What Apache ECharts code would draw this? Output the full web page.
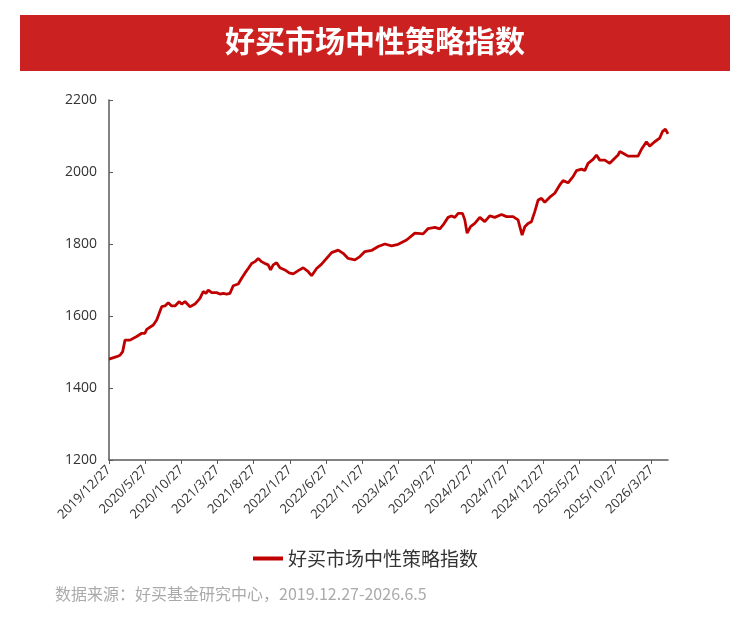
<!DOCTYPE html>
<html>
<head>
<meta charset="utf-8">
<script src="https://cdn.jsdelivr.net/npm/echarts@6/dist/echarts.min.js"></script>
<style>
  html, body { margin: 0; padding: 0; background: #fff; }
  #main { width: 750px; height: 622px; }
</style>
</head>
<body>
<div id="main"></div>
<script>
// x轴刻度标签（每5个月一个）
var tickLabels = ['2019/12/27', '2020/5/27', '2020/10/27', '2021/3/27', '2021/8/27', '2022/1/27',
  '2022/6/27', '2022/11/27', '2023/4/27', '2023/9/27', '2024/2/27', '2024/7/27',
  '2024/12/27', '2025/5/27', '2025/10/27', '2026/3/27'];

// 距 2019/12/27 的月数
var monthsSinceStart = [0, 1.06, 1.52, 1.89, 2.21, 2.9, 3.83, 4.52, 4.97, 5.21,
  6.12, 6.59, 7.28, 7.73, 8.19, 8.66, 9.12, 9.71, 10.04, 10.5,
  11.19, 11.88, 12.57, 13.02, 13.4, 13.72, 14.19, 14.88, 15.33, 15.79,
  16.26, 16.71, 17.17, 17.86, 18.33, 18.78, 19.24, 19.71, 20.17, 20.62,
  21.09, 21.55, 22.0, 22.33, 22.69, 23.16, 23.62, 24.31, 24.9, 25.46,
  26.15, 26.84, 27.53, 28.0, 28.69, 29.38, 30.07, 30.76, 31.67, 32.36,
  33.05, 33.98, 34.67, 35.36, 36.28, 37.2, 38.12, 39.05, 39.96, 41.12,
  42.27, 43.41, 44.1, 45.03, 45.72, 46.17, 46.86, 47.33, 47.79, 48.25,
  48.85, 49.17, 49.49, 49.96, 50.55, 51.24, 51.93, 52.62, 53.31, 54.24,
  54.93, 55.84, 56.53, 56.77, 57.09, 57.46, 57.91, 58.38, 58.84, 59.3,
  59.77, 60.22, 60.91, 61.6, 62.29, 62.75, 63.44, 64.13, 64.6, 65.29,
  65.75, 66.2, 66.89, 67.36, 67.82, 68.51, 69.2, 69.89, 70.35, 70.58,
  71.04, 71.73, 73.11, 73.58, 74.27, 74.72, 75.41, 76.1, 76.48, 76.89, 77.25];

// 好买市场中性策略指数
var indexValues = [1480, 1487, 1491, 1501, 1533, 1533, 1543, 1552, 1552, 1563,
  1575, 1589, 1626, 1628, 1637, 1628, 1628, 1640, 1633, 1640,
  1626, 1633, 1649, 1668, 1663, 1672, 1665, 1665, 1661, 1663,
  1661, 1663, 1684, 1689, 1705, 1719, 1732, 1746, 1751, 1760,
  1751, 1746, 1742, 1728, 1742, 1748, 1734, 1728, 1720, 1717,
  1726, 1734, 1723, 1712, 1732, 1744, 1760, 1776, 1783, 1774,
  1760, 1756, 1765, 1779, 1782, 1793, 1800, 1795, 1799, 1811,
  1830, 1828, 1843, 1846, 1842, 1853, 1874, 1878, 1874, 1885,
  1885, 1867, 1830, 1848, 1857, 1874, 1862, 1878, 1874, 1882,
  1876, 1876, 1867, 1848, 1825, 1848, 1857, 1862, 1890, 1922,
  1927, 1916, 1930, 1941, 1964, 1976, 1970, 1987, 2004, 2008,
  2004, 2024, 2035, 2047, 2033, 2033, 2024, 2038, 2047, 2057,
  2052, 2044, 2044, 2063, 2084, 2072, 2084, 2094, 2112, 2119, 2106];

var tickValues = tickLabels.map(function (t, i) { return i * 5; });

var seriesData = monthsSinceStart.map(function (m, i) { return [m, indexValues[i]]; });

var myChart = echarts.init(document.getElementById('main'));
var option = {
  animation: false,
  textStyle: { fontFamily: 'Noto Sans CJK SC' },
  graphic: [
    {
      type: 'rect',
      shape: { x: 20, y: 15, width: 710, height: 56 },
      style: { fill: '#CC2121' },
      z: 0
    },
    // 数据来源
    {
      type: 'text',
      left: 55,
      top: 586,
      style: {
        text: '数据来源：好买基金研究中心，2019.12.27-2026.6.5',
        fill: '#aaa',
        fontSize: 16,
        fontFamily: 'Noto Sans CJK SC'
      }
    }
  ],
  title: {
    text: '好买市场中性策略指数',
    left: 'center',
    top: 21,
    textStyle: { color: '#fff', fontSize: 30, fontWeight: 'bold', fontFamily: 'Noto Sans CJK SC' },
    z: 10
  },
  legend: {
    left: 248,
    top: 544,
    itemWidth: 30,
    itemHeight: 4,
    itemGap: 8,
    icon: 'rect',
    textStyle: { color: '#333', fontSize: 19 },
    data: ['好买市场中性策略指数']
  },
  grid: {
    left: 109,
    right: 82,
    top: 100,
    bottom: 162
  },
  xAxis: {
    type: 'value',
    min: 0,
    max: 77.25,
    interval: 5,
    splitLine: { show: false },
    axisLine: { lineStyle: { color: '#595959', width: 1.5 } },
    axisTick: {
      show: true,
      length: 4,
      customValues: tickValues,
      lineStyle: { color: '#595959' }
    },
    axisLabel: {
      customValues: tickValues,
      rotate: 45,
      margin: 8,
      color: '#333',
      fontSize: 13,
      fontFamily: 'Open Sans',
      formatter: function (v) {
        return tickLabels[Math.round(v / 5)] || '';
      }
    }
  },
  yAxis: {
    type: 'value',
    min: 1200,
    max: 2200,
    interval: 200,
    splitLine: { show: false },
    axisLine: { show: true, lineStyle: { color: '#595959', width: 1.5 } },
    axisTick: { show: true, inside: true, length: 4, lineStyle: { color: '#595959' } },
    axisLabel: {
      color: '#333',
      fontSize: 14,
      margin: 12,
      fontFamily: 'Open Sans',
      formatter: function (v) { return String(v); }
    }
  },
  series: [
    {
      name: '好买市场中性策略指数',
      type: 'line',
      data: seriesData,
      showSymbol: false,
      symbol: 'none',
      lineStyle: { color: '#C00000', width: 2.8 },
      itemStyle: { color: '#C00000' }
    }
  ]
};
myChart.setOption(option);
window.addEventListener('resize', () => myChart.resize());
</script>
</body>
</html>
